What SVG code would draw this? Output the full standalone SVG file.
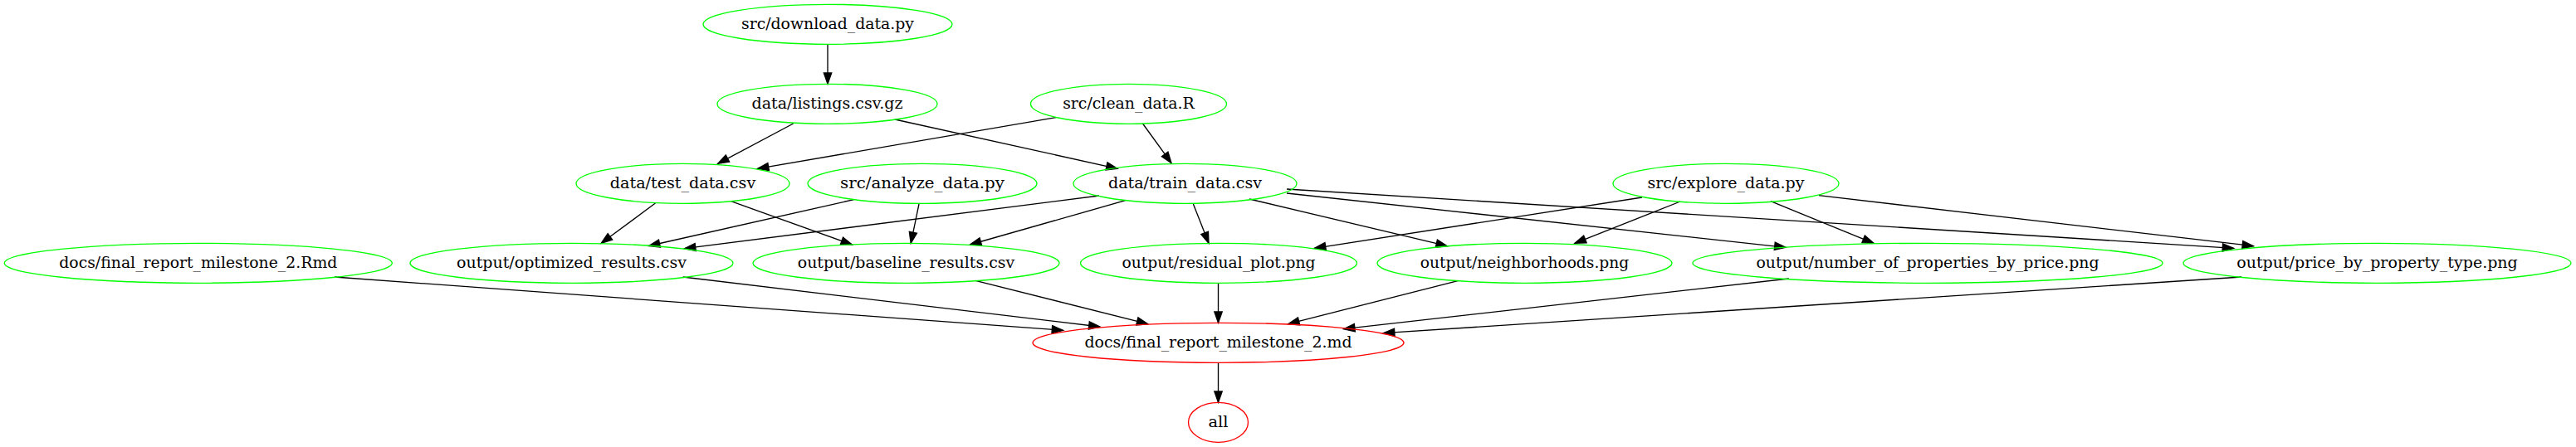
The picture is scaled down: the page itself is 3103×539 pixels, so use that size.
<svg xmlns="http://www.w3.org/2000/svg" width="3103" height="539" viewBox="0 0 3103 539">
<style>
.n ellipse{fill:none;stroke:#00ff00;stroke-width:1.33}
.n.r ellipse{stroke:#ff0000}
.n text{font-family:"DejaVu Serif",serif;font-size:18px;text-anchor:middle;fill:#000}
#edges line{stroke:#000;stroke-width:1.33;marker-end:url(#arr)}
</style>
<defs>
<marker id="arr" markerUnits="userSpaceOnUse" markerWidth="15" markerHeight="11" refX="13.33" refY="4.67" orient="auto" overflow="visible">
<path d="M0,0 L13.33,4.67 L0,9.33 Z" fill="#000" stroke="#000" stroke-width="1.33"/>
</marker>
</defs>
<rect width="3103" height="539" fill="#fff"/>
<g id="edges">
<line x1="997" y1="53.3" x2="997" y2="101.3"/>
<line x1="955.6" y1="149" x2="864.7" y2="197.3"/>
<line x1="1078" y1="144" x2="1346" y2="203.3"/>
<line x1="1272" y1="141.7" x2="912.5" y2="203.3"/>
<line x1="1376.5" y1="149" x2="1411" y2="196.7"/>
<line x1="789.4" y1="245" x2="724.2" y2="293.3"/>
<line x1="880.6" y1="242.7" x2="1026.5" y2="295"/>
<line x1="1028.6" y1="240.7" x2="781.5" y2="296.5"/>
<line x1="1107" y1="246" x2="1097.2" y2="293.3"/>
<line x1="1323.9" y1="236" x2="824.5" y2="299.7"/>
<line x1="1355.7" y1="241.7" x2="1168.5" y2="295"/>
<line x1="1437.4" y1="246" x2="1456" y2="293.3"/>
<line x1="1505" y1="240" x2="1743.3" y2="296.7"/>
<line x1="1550" y1="233" x2="2151" y2="298.3"/>
<line x1="1550" y1="228" x2="2690.6" y2="299.3"/>
<line x1="1978" y1="238" x2="1583.5" y2="299.3"/>
<line x1="2024" y1="243" x2="1897" y2="293.3"/>
<line x1="2133" y1="242.7" x2="2257" y2="293.3"/>
<line x1="2191" y1="235.7" x2="2714.5" y2="296.7"/>
<line x1="403" y1="334" x2="1280.6" y2="398.3"/>
<line x1="822.7" y1="334" x2="1325" y2="394"/>
<line x1="1175" y1="338.3" x2="1382.7" y2="390.7"/>
<line x1="1467.5" y1="341.3" x2="1467.5" y2="389.3"/>
<line x1="1757" y1="338.3" x2="1551.7" y2="390.7"/>
<line x1="2154.8" y1="336" x2="1618.6" y2="396.7"/>
<line x1="2700" y1="334" x2="1666.5" y2="401.7"/>
<line x1="1467.5" y1="437.3" x2="1467.5" y2="485.3"/>
</g>
<g id="download" class="n"><ellipse cx="997" cy="29.3" rx="150" ry="24"/><text x="997" y="34.9" textLength="208" lengthAdjust="spacingAndGlyphs">src/download_data.py</text></g>
<g id="listings" class="n"><ellipse cx="996.5" cy="125.3" rx="132.5" ry="24"/><text x="996.5" y="130.9" textLength="182" lengthAdjust="spacingAndGlyphs">data/listings.csv.gz</text></g>
<g id="clean" class="n"><ellipse cx="1359.5" cy="125.3" rx="118" ry="24"/><text x="1359.5" y="130.9" textLength="158.7" lengthAdjust="spacingAndGlyphs">src/clean_data.R</text></g>
<g id="test" class="n"><ellipse cx="822.5" cy="221.3" rx="128.5" ry="24"/><text x="822.5" y="226.9" textLength="175.4" lengthAdjust="spacingAndGlyphs">data/test_data.csv</text></g>
<g id="analyze" class="n"><ellipse cx="1111" cy="221.3" rx="138" ry="24"/><text x="1111" y="226.9" textLength="198" lengthAdjust="spacingAndGlyphs">src/analyze_data.py</text></g>
<g id="train" class="n"><ellipse cx="1427.5" cy="221.3" rx="134.5" ry="24"/><text x="1427.5" y="226.9" textLength="185" lengthAdjust="spacingAndGlyphs">data/train_data.csv</text></g>
<g id="explore" class="n"><ellipse cx="2079" cy="221.3" rx="136" ry="24"/><text x="2079" y="226.9" textLength="189" lengthAdjust="spacingAndGlyphs">src/explore_data.py</text></g>
<g id="rmd" class="n"><ellipse cx="238.8" cy="317.3" rx="233.5" ry="24"/><text x="238.8" y="322.9" textLength="335" lengthAdjust="spacingAndGlyphs">docs/final_report_milestone_2.Rmd</text></g>
<g id="optimized" class="n"><ellipse cx="688.5" cy="317.3" rx="194.5" ry="24"/><text x="688.5" y="322.9" textLength="277" lengthAdjust="spacingAndGlyphs">output/optimized_results.csv</text></g>
<g id="baseline" class="n"><ellipse cx="1091.5" cy="317.3" rx="184.5" ry="24"/><text x="1091.5" y="322.9" textLength="261.5" lengthAdjust="spacingAndGlyphs">output/baseline_results.csv</text></g>
<g id="residual" class="n"><ellipse cx="1468" cy="317.3" rx="166.5" ry="24"/><text x="1468" y="322.9" textLength="233" lengthAdjust="spacingAndGlyphs">output/residual_plot.png</text></g>
<g id="neighborhoods" class="n"><ellipse cx="1836.5" cy="317.3" rx="177.5" ry="24"/><text x="1836.5" y="322.9" textLength="251.5" lengthAdjust="spacingAndGlyphs">output/neighborhoods.png</text></g>
<g id="number" class="n"><ellipse cx="2322" cy="317.3" rx="283" ry="24"/><text x="2322" y="322.9" textLength="413" lengthAdjust="spacingAndGlyphs">output/number_of_properties_by_price.png</text></g>
<g id="price" class="n"><ellipse cx="2863.5" cy="317.3" rx="233.5" ry="24"/><text x="2863.5" y="322.9" textLength="338.6" lengthAdjust="spacingAndGlyphs">output/price_by_property_type.png</text></g>
<g id="final" class="n r"><ellipse cx="1467.5" cy="413.3" rx="223.5" ry="24"/><text x="1467.5" y="418.9" textLength="322" lengthAdjust="spacingAndGlyphs">docs/final_report_milestone_2.md</text></g>
<g id="all" class="n r"><ellipse cx="1467.5" cy="509.3" rx="36" ry="24"/><text x="1467.5" y="514.9" textLength="24" lengthAdjust="spacingAndGlyphs">all</text></g>
</svg>
